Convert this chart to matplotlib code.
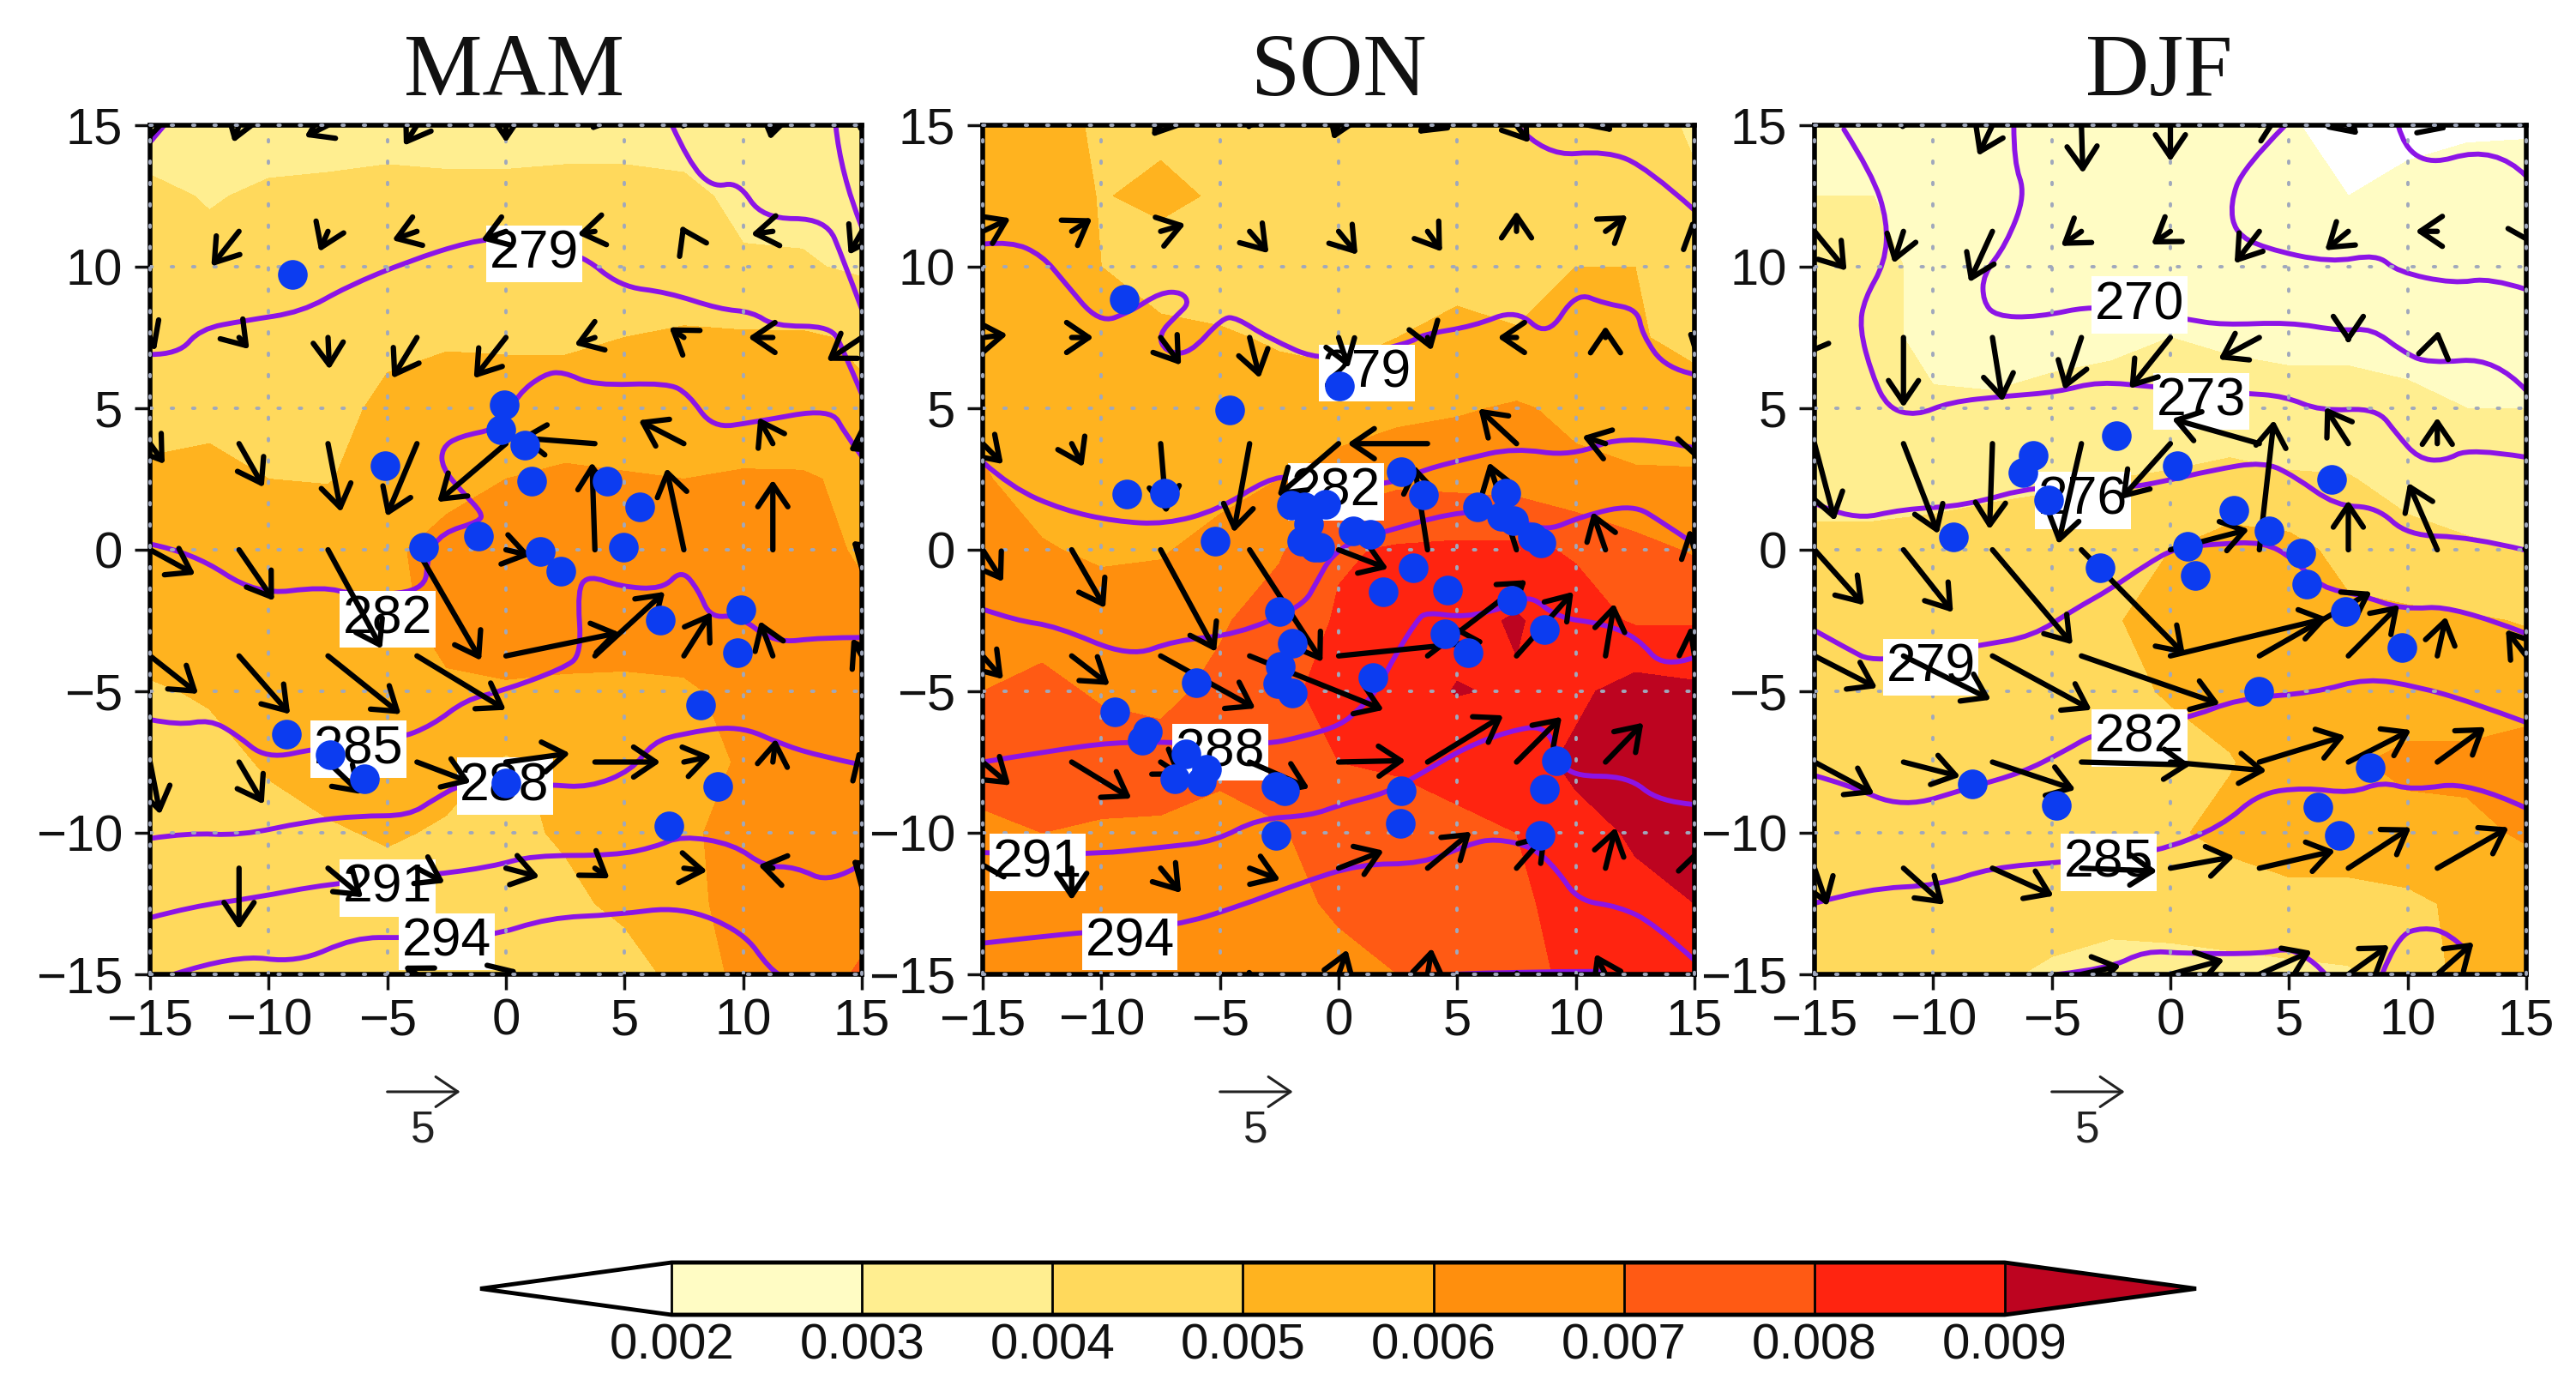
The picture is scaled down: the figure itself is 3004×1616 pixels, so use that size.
import numpy as np
import matplotlib
matplotlib.use("Agg")
import matplotlib.pyplot as plt
from matplotlib.path import Path
from matplotlib.patches import PathPatch

plt.rcParams['font.family'] = ['Liberation Sans', 'DejaVu Sans']
W, H = 3004, 1616
SEASONS = ["MAM", "SON", "DJF"]
LEVELS = [0.002, 0.003, 0.004, 0.005, 0.006, 0.007, 0.008, 0.009]
COLORS = ["#FFFFFF", "#FFFCC4", "#FFEE90", "#FFD95C", "#FFB31F", "#FF8F0D", "#FF5A14", "#FF2410", "#BD0420"]
TICKS = [-15, -10, -5, 0, 5, 10, 15]
GRID_X = np.arange(-15, 15.1, 2.5)
GRID_Y = np.arange(15, -15.1, -2.5)
WIND_X = np.arange(-15, 15.1, 3.75)
WIND_Y = np.arange(15, -15.1, -3.75)

# field values in 1e-3 units, rows from y=15 to y=-15
MAM_FIELD = [
 [3.3,3.3,3.4,3.5,3.5,3.5,3.5,3.5,3.5,3.4,3.2,3.2,3.1],
 [4.3,3.9,4.2,4.25,4.4,4.3,4.3,4.4,4.4,4.3,3.7,3.7,3.5],
 [4.5,4.4,4.5,4.5,4.5,4.5,4.5,4.5,4.5,4.5,4.15,4.1,3.85],
 [4.5,4.7,4.7,4.8,4.8,4.9,4.9,4.9,5.0,5.1,5.1,5.1,4.9],
 [4.8,4.8,4.7,4.7,5.2,5.4,5.3,5.3,5.2,5.3,5.4,5.3,5.1],
 [5.1,5.2,5.0,4.95,5.4,5.8,6.0,6.2,6.1,6.0,6.1,6.1,5.8],
 [5.4,5.5,5.5,5.6,5.9,6.2,6.4,6.5,6.5,6.4,6.4,6.3,5.9],
 [5.5,5.6,5.6,5.7,5.8,6.2,6.5,6.6,6.5,6.4,6.4,6.3,6.2],
 [4.9,5.1,5.3,5.5,5.7,5.9,5.9,5.8,5.8,5.9,6.2,6.4,6.4],
 [4.6,4.7,5.1,5.4,5.5,5.3,4.9,5.2,5.4,5.6,6.1,6.4,6.4],
 [4.5,4.5,4.7,4.9,5.1,4.9,4.8,5.1,5.4,5.95,6.1,6.4,6.5],
 [4.4,4.4,4.5,4.5,4.6,4.6,4.7,4.8,5.2,5.85,6.2,6.5,6.7],
 [4.3,4.4,4.4,4.4,4.5,4.6,4.7,4.7,4.6,5.3,6.3,6.6,7.1],
]
SON_FIELD = [
 [5.3,5.5,4.8,4.8,4.8,4.6,4.5,4.5,4.5,4.5,4.4,4.3,3.9],
 [5.4,5.5,4.95,5.2,4.9,4.7,4.6,4.6,4.6,4.5,4.5,4.4,4.1],
 [5.4,5.5,5.0,4.6,4.5,4.5,4.5,4.5,4.5,4.5,5.0,5.0,4.5],
 [5.5,5.5,5.1,5.2,5.1,4.9,4.7,5.0,5.4,5.1,5.2,5.1,4.7],
 [5.7,5.5,5.0,5.3,5.0,5.4,5.5,5.7,5.9,6.1,5.8,5.6,5.5],
 [6.1,5.5,5.3,5.4,5.6,6.0,6.4,6.8,6.7,6.6,6.2,6.1,6.1],
 [6.3,6.1,5.8,5.9,6.4,6.9,7.9,8.1,8.2,8.2,7.9,7.3,6.9],
 [6.7,6.7,6.6,6.6,6.9,7.4,8.1,8.5,8.7,9.1,8.4,7.9,7.9],
 [7.0,7.2,6.9,6.8,7.2,7.8,8.3,8.6,9.05,8.9,8.8,9.4,9.2],
 [7.4,7.4,7.4,7.3,7.2,7.5,8.0,8.1,8.3,8.6,9.2,9.5,9.4],
 [6.8,7.0,6.9,6.9,6.7,6.9,7.5,7.6,7.8,8.0,8.7,9.1,9.3],
 [6.1,6.3,6.3,6.3,6.3,6.6,7.2,7.4,7.6,7.9,8.2,8.8,9.0],
 [6.05,6.1,6.2,6.2,6.3,6.4,6.6,7.0,7.4,7.7,8.2,8.7,8.9],
]
DJF_FIELD = [
 [3.0,3.0,2.9,2.6,2.6,2.6,2.5,2.4,2.05,1.8,1.8,1.9,1.9],
 [3.0,3.0,2.9,2.6,2.5,2.5,2.5,2.4,2.3,2.0,2.2,2.3,2.4],
 [3.2,3.1,2.9,2.6,2.6,2.6,2.6,2.5,2.4,2.4,2.4,2.5,2.5],
 [3.4,3.2,2.8,2.7,2.8,2.9,3.0,2.9,2.8,2.8,2.7,2.7,2.7],
 [3.5,3.4,3.1,3.1,3.2,3.2,3.3,3.3,3.3,3.3,3.2,3.0,3.0],
 [3.7,3.7,3.7,3.8,3.9,4.0,4.1,4.3,4.1,4.05,3.7,3.6,3.6],
 [4.2,4.2,4.3,4.4,4.4,4.6,5.0,5.4,5.3,4.7,4.3,4.1,4.0],
 [4.4,4.5,4.5,4.5,4.6,4.9,5.4,5.6,5.6,5.2,5.2,5.1,4.95],
 [4.4,4.5,4.5,4.5,4.6,4.85,5.05,5.3,5.3,5.4,5.5,5.5,5.5],
 [4.4,4.4,4.5,4.5,4.6,4.8,4.8,4.95,5.4,5.9,6.2,6.2,6.5],
 [4.3,4.3,4.4,4.4,4.5,4.6,4.9,5.2,5.5,5.5,5.7,5.8,6.1],
 [4.1,4.2,4.2,4.3,4.3,4.4,4.5,4.6,4.7,4.7,4.8,5.2,5.5],
 [4.1,4.1,4.1,4.1,3.9,3.6,3.6,3.7,3.8,3.9,4.4,5.3,5.5],
]

# temperature contours, read as (x, y) vertices
MAM_LINES = [
 [(-15,14.4),(-14.4,15)],
 [(7,15),(7.7,13.7),(8.7,12.8),(9.8,13),(10.8,11.7),(13.5,11.7),(14.2,10.3),(15,8.5)],
 [(13.9,15),(14.1,13.3),(15,11.4)],
 [(-15,6.9),(-13.8,6.9),(-12.9,7.8),(-11,8.1),(-8.6,8.4),(-6.7,9.3),(-4.1,10.2),(-1.5,10.9),(0,11),(3.1,10.5),(4.8,9.3),(6.8,9.1),(9,8.5),(10.4,8.4),(11.3,7.9),(13.7,7.9),(14.2,7.1),(15,5.5)],
 [(-15,0.2),(-13.2,-0.1),(-10.5,-1.6),(-7.7,-1.3),(-6.4,-1.6),(-3.4,-1.5),(-3.3,-0.2),(-2.7,0.6),(-1.1,1),(-1,1.3),(-1.8,2),(-2.7,2.9),(-2.7,3.6),(-2,4),(-0.2,4.3),(0.5,5.5),(1.6,6.2),(2.4,6.3),(3.7,5.8),(6.8,5.9),(7.7,5.5),(8.7,4.3),(10.4,4.5),(13.7,5),(14.3,4.1),(15,3.3)],
 [(-15,-6),(-13.8,-6.2),(-12.5,-6),(-11.4,-6.5),(-10.1,-7.4),(-7.9,-7),(-4.6,-6.7),(-3.1,-6.2),(-1.7,-5.3),(-0.2,-5),(2.4,-4.2),(3.2,-3.7),(3,-1.4),(3.5,-0.9),(4.8,-1.3),(6.6,-1.4),(7.4,-0.7),(8.1,-1.4),(8.6,-2.4),(9.8,-2.3),(11.3,-3.3),(13.3,-3.1),(15,-3.1)],
 [(-15,-10.2),(-13.4,-10),(-11.2,-10.1),(-8.4,-9.6),(-6.2,-9.4),(-4.1,-9.4),(-3,-8.8),(-1.7,-8.2),(1.8,-8.3),(3.5,-8.4),(5.3,-7.8),(6.2,-6.8),(7.4,-6.5),(9.8,-6.2),(11.7,-6.9),(13.3,-7.3),(15,-7.6)],
 [(-15,-13),(-13.2,-12.6),(-10.6,-12.3),(-7.5,-11.8),(-3.2,-11.5),(-0.6,-11.2),(1.1,-10.8),(4.6,-10.8),(6.3,-10.5),(7.4,-10.1),(9.6,-10.4),(10.9,-11.2),(12.2,-11.2),(13.7,-11.8),(15,-11.1)],
 [(-14,-15),(-11.4,-14.3),(-8.8,-14.6),(-6.4,-13.7),(-4.3,-13.7),(-0.8,-13.7),(1.8,-13),(4.6,-12.9),(7.4,-12.6),(10,-13.5),(11.1,-14.8),(11.5,-15)],
]
SON_LINES = [
 [(7.5,15),(8.7,13.9),(11.3,14.1),(13,13.5),(15,12)],
 [(-15,10.8),(-13.8,10.9),(-12.5,10.4),(-11.6,9.5),(-10.1,8),(-8.8,8.4),(-7.5,9.1),(-6.6,9.1),(-6.3,8.7),(-6.8,8.3),(-7.6,7.6),(-7.3,7),(-6.3,6.9),(-4.9,8.2),(-4.3,8.2),(-3,7.5),(-0.6,6.6),(3,7.3),(3.5,7.6),(5.7,7.9),(7.5,8.5),(8.8,7.5),(10,9.1),(11.2,8.7),(12.6,8.5),(12.8,7.6),(13.8,6.4),(15,6.2)],
 [(-15,3.1),(-13.8,2.2),(-11.6,1.4),(-9.4,1),(-7.3,0.9),(-5.1,1.4),(-3,2.5),(-1.9,2.6),(1.7,2.2),(3.5,2.8),(5.3,3.2),(7.4,3.6),(9.8,3.3),(12.2,4.1),(15,3.6)],
 [(-15,-2.1),(-13.6,-2.5),(-11.9,-2.7),(-8.8,-3.8),(-6.9,-3.2),(-4.3,-3),(-1.5,-2),(-0.9,-1.1),(-0.3,-0.2),(0.8,0.4),(1.8,0.6),(4.7,1.3),(7,1.4),(8.6,0.6),(10.3,1.2),(12.4,1.6),(13.6,1),(15,0.2)],
 [(-15,-7.5),(-12.1,-7.1),(-9.5,-6.8),(-6.9,-6.8),(-3.2,-6.9),(-1.5,-6.6),(0.1,-6.2),(0.9,-5.6),(1.6,-5),(2.4,-3.7),(3.3,-2.5),(3.7,-2.2),(5.3,-2.4),(7.2,-2),(8.1,-1.6),(9.2,-2.4),(11.1,-2.6),(12.6,-3.1),(13.7,-4.2),(15,-3.8)],
 [(-15,-10.7),(-10.8,-10.8),(-7.3,-10.5),(-5.2,-10.3),(-3.4,-9.5),(-1.2,-9.4),(0.1,-9),(2,-8.6),(3.5,-7.9),(5.3,-7),(7.2,-6.4),(8.7,-6.2),(9.3,-7.3),(9.8,-8),(12.2,-8),(13.5,-8.9),(15,-9)],
 [(-15,-13.9),(-12.9,-13.7),(-10.5,-13.5),(-6.9,-13.3),(-4.2,-12.6),(-1.7,-11.8),(0.9,-11.1),(3.5,-11.1),(5.5,-10.4),(6.6,-10.2),(8.2,-10.5),(9.2,-11.3),(10.1,-12.4),(11.8,-12.6),(13.3,-13.2),(15,-14.5)],
 [(4.8,-15),(7.5,-14.9),(11,-14.9)],
]
DJF_LINES = [
 [(-13.76,14.85),(-12.57,13.28),(-11.92,11.6),(-12.03,10.14),(-12.89,8.88),(-13.11,7.83),(-12.57,6.16),(-11.92,5.01),(-10.72,4.73),(-9.31,5.22),(-6.93,5.43),(-4.76,5.57),(-3.02,5.95),(-0.63,5.74),(3.06,5.53),(4.8,5.43),(6.32,4.9),(8.7,5.01),(9.57,4.06),(10.44,3.23),(11.52,3.12),(12.61,3.6),(15,3.27)],
 [(-6.6,15),(-6.6,13.7),(-6.1,12.55),(-6.93,10.77),(-7.9,9.72),(-7.9,8.78),(-7.36,8.25),(-5.62,8.21),(-3.02,8.67),(0.67,8.15),(2.19,7.94),(5.01,8.04),(7.18,7.73),(8.49,7.83),(9.79,7),(10.87,6.58),(13.7,6.79),(15,5.63)],
 [(4.8,14.96),(3.06,13.49),(2.52,12.23),(2.73,11.19),(3.93,10.66),(6.75,10.14),(8.7,10.45),(9.57,9.82),(11.96,9.4),(13.48,9.61),(15,9.2)],
 [(9.6,15),(10.1,13.4),(13.7,14.3),(15,13.2)],
 [(-15,1.65),(-13.44,1.03),(-11.27,1.44),(-8.66,1.55),(-5.62,2.28),(-1.93,2.18),(-0.41,2.39),(1.76,2.81),(3.93,3.12),(5.23,2.6),(6.97,1.55),(8.7,1.51),(10,0.5),(12.61,0.46),(15,-0.02)],
 [(-15,-2.85),(-13.65,-3.48),(-12.46,-4),(-7.98,-3.37),(-5.82,-3.06),(-4.08,-2.12),(-2.5,-1.38),(-1.07,-0.55),(0.24,0.08),(1.76,0.19),(3.93,0.29),(5.23,-0.34),(6.32,-1.34),(8.05,-1.6),(9.79,-2.12),(11.96,-1.97),(15,-2.96)],
 [(-15,-7.98),(-13.65,-8.29),(-11.27,-9.13),(-8.45,-8.4),(-6.27,-7.88),(-4.54,-7.15),(-3.02,-6.41),(0.67,-5.99),(2.84,-5.26),(6.1,-5.05),(8.27,-4.53),(10.44,-4.84),(12.61,-5.36),(15,-6.1)],
 [(-15,-12.49),(-12.79,-11.97),(-9.75,-11.86),(-7.58,-11.23),(-4.32,-11.02),(-0.63,-10.71),(2.19,-9.76),(3.71,-8.61),(5.66,-8.4),(7.62,-8.61),(8.92,-8.19),(10.22,-8.5),(12.61,-8.19),(15,-9.13)],
 [(-4.75,-15),(-2.58,-14.8),(-1.06,-14.16),(0.67,-14.27),(3.93,-14.27),(5.01,-14.06),(6.1,-14.58),(6.53,-15)],
 [(8.92,-15),(9.57,-13.64),(10.66,-13.33),(11.74,-13.54),(12.5,-14.16)],
]

# contour labels: text, x, y
MAM_LABELS = [("279",1.2,10.45),("282",-5,-2.45),("285",-6.2,-7.05),("288",-0.05,-8.35),("291",-5,-11.95),("294",-2.5,-13.85)]
SON_LABELS = [("279",1.2,6.25),("282",-0.1,2.05),("288",-5,-7.15),("291",-12.7,-11.05),("294",-8.8,-13.85)]
DJF_LABELS = [("270",-1.3,8.65),("273",1.3,5.25),("276",-3.7,1.75),("279",-10.1,-4.15),("282",-1.3,-6.65),("285",-2.6,-11.05)]

# wind components, rows y=15,11.25,...,-15; columns x=-15,-11.25,...,15
MAM_U = [
 [-0.2,-0.4,-1.6,-0.9,0,-0.3,-0.2,-0.2,-0.2],
 [0,-1.9,-0.6,-1.7,-1.7,-1.2,-0.2,-1.5,-0.9],
 [0.4,0.7,0.1,-1.7,-2.2,-1.4,-1,-1.7,-2.4],
 [1,1.7,0.9,-2.1,-4.7,-5.2,-3.1,-1,-0.9],
 [3.1,2.4,3.7,4.4,1.7,-0.2,-1.2,0,-0.7],
 [3.3,3.5,5,6.1,7.8,4.8,1.9,-0.9,-0.7],
 [0.7,1.7,2.3,3.7,4.4,4.5,1.9,0.2,-0.3],
 [0,0,2.4,1.9,2.3,1,1.6,-1,-0.7],
 [0,0,0,-0.9,0.8,0,0,0,0],
]
MAM_V = [
 [-1.2,-1.2,-0.8,-1.4,-1.2,-0.4,-0.2,-1,-0.5],
 [0,-2.4,-1.4,-0.6,-0.6,-0.2,0.4,-0.2,-1.6],
 [-0.9,-0.8,-2.2,-2.8,-2.8,-0.5,0.7,0,-1.6],
 [-1.4,-3,-4.7,-5,-4,0.4,1.6,1.8,-0.5],
 [-1.7,-3.5,-6.8,-7.6,-0.4,6,5.6,4.8,0.6],
 [-2.6,-4,-4,-3.7,1.6,4.4,3,2.4,1.2],
 [-3.6,-2.9,-2.2,-1.4,0.6,0,0.4,1.6,0.8],
 [0,-4.2,-2,-1,-0.6,-0.7,-0.2,0.2,0.6],
 [0,0,0,0.6,0.3,0,0,0,0],
]
SON_U = [
 [0,0,-0.6,-0.2,-0.4,-0.7,0.9,0.5,0],
 [1.9,1.4,1.7,1.3,1.3,1,0,1.5,-0.2],
 [1.7,1.5,1.4,0.7,0.7,0.3,-1.3,0,-0.5],
 [1.4,0.8,0.4,-1.1,-4.2,-5.5,-2.6,-1.6,0.3],
 [1.4,2.3,3.8,5,3.4,-0.9,-1.9,-0.9,-0.4],
 [1.4,2.6,6.5,9.2,10,6.8,3.9,0.6,-0.3],
 [1.9,4.1,1.5,4.1,4.6,5.2,3.1,2.6,0],
 [-0.3,0,1.4,2.1,3.1,3,2.1,0.7,0.3],
 [0,0,0,-0.1,0.6,0.3,0.1,-0.7,0],
]
SON_V = [
 [0,0,-0.8,-0.3,-1,-0.6,-1.2,-0.5,0],
 [0.9,0.9,0.5,-1.5,-1.6,-1.4,1.4,1.1,0.8],
 [0.2,0,-1.9,-2.8,-2.1,-0.9,0,0.8,0.4],
 [-1.4,-1.6,-4.8,-6.1,-3.6,0,2.4,0.5,-1.2],
 [-2.2,-4,-7,-7.7,-1.3,5.8,6,2.6,1.4],
 [-1.6,-2,-3.6,-3.7,1,5.2,4.4,3.6,2],
 [-1.6,-2.5,-1,-1.8,0.1,3.2,3.1,2.7,0],
 [0.6,-2.2,-1.7,-0.8,1.2,2.5,2.4,2.8,1.4],
 [0,0,0,0.4,1.7,1.8,0.3,1.4,0],
]
DJF_U = [
 [0,-0.2,-1,0.1,0,1.4,0.7,0.7,0],
 [2.2,-0.7,-1.6,-1.4,-1.3,-1.7,-1.6,-1.5,0.5],
 [-0.9,0,0.7,-1.2,-2.8,-2.8,0,0.1,0],
 [1.4,2.4,-0.2,-1.6,-3.4,-6,-1.6,0,0],
 [3.4,3.4,5.5,7.1,5.4,1,0,-2,-0.3],
 [4.3,6,6.8,9.5,10.8,7.7,3.5,0.6,-1.4],
 [4.1,3.9,5.7,7.5,6.6,5.9,4.3,3.3,0],
 [0.9,2.8,4.2,5.2,4.4,5.2,4.3,4.9,0],
 [0,0,0,2.7,3.7,3.6,2.8,2.5,0],
]
DJF_V = [
 [0,-0.3,-2.1,-3.3,-2.5,0.6,-0.7,-0.3,0],
 [-2.7,-2.2,-3.5,-1,-0.9,-2.2,-1.3,0,-1],
 [-1.4,-4.8,-4.4,-3.6,-3.5,-1.5,-0.4,0.5,0],
 [-5.3,-6.2,-5.9,-6.9,-3.8,1.7,2.5,1.8,0],
 [-3.8,-4.3,-6.5,-7.2,1.4,8.9,3.4,4.6,0.2],
 [-2.2,-3,-3.7,-3.3,2.6,4.4,3.5,2.7,1.8],
 [-2.2,-1,-1.9,-0.2,-0.6,1.8,2.2,2.4,0],
 [-2.6,-2.5,-1.9,-0.2,0.8,1.2,2.8,2.8,0],
 [0,0,0,0.6,1,1.6,2,2.2,0],
]

# station locations
MAM_DOTS_X = [-9,-0.06,-0.21,0.81,1.09,-5.1,4.25,5.64,4.95,-1.14,-3.46,1.46,2.33,6.49,9.91,9.76,8.2,-9.26,-7.42,-5.95,-0.01,8.93,6.85]
MAM_DOTS_Y = [9.72,5.11,4.23,3.69,2.43,2.97,2.43,1.51,0.08,0.5,0.08,-0.06,-0.76,-2.47,-2.12,-3.65,-5.47,-6.52,-7.25,-8.09,-8.24,-8.36,-9.76]
SON_DOTS_X = [-9.04,0.05,-4.6,-8.94,-7.35,-5.19,-2,-1.46,-0.55,-1.25,-1.57,-1.03,-0.8,0.6,1.35,2.65,3.58,5.86,7.05,6.88,7.37,8.17,8.54,1.89,3.13,4.6,7.31,8.67,-2.5,-1.94,-2.44,4.49,5.47,1.46,-2.55,-1.94,-6.01,-9.43,-8.07,-8.28,-6.44,-6.92,-5.58,-5.79,-2.65,-2.26,2.65,2.61,9.19,8.67,8.5,-2.65]
SON_DOTS_Y = [8.84,5.78,4.94,1.97,2.01,0.31,1.57,1.53,1.6,0.92,0.3,0.08,0.1,0.67,0.55,2.76,1.93,1.51,2.01,1.17,1.03,0.46,0.25,-1.49,-0.65,-1.43,-1.8,-2.81,-2.18,-3.31,-4.11,-2.96,-3.65,-4.53,-4.74,-5.05,-4.69,-5.72,-6.41,-6.73,-7.2,-8.09,-7.77,-8.19,-8.36,-8.5,-8.5,-9.66,-7.46,-8.44,-10.08,-10.08]
DJF_DOTS_X = [-2.26,-5.8,-6.23,-5.12,0.3,6.81,2.69,-9.16,0.72,4.14,5.51,1.04,-2.95,5.73,7.36,9.75,3.71,8.42,-8.34,-4.8,6.21,7.12]
DJF_DOTS_Y = [4.02,3.33,2.74,1.76,2.97,2.49,1.4,0.46,0.12,0.67,-0.13,-0.92,-0.65,-1.22,-2.18,-3.44,-5.01,-7.71,-8.26,-9.03,-9.09,-10.08]

FIELDS = [MAM_FIELD, SON_FIELD, DJF_FIELD]
LINES = [MAM_LINES, SON_LINES, DJF_LINES]
LABELS = [MAM_LABELS, SON_LABELS, DJF_LABELS]
WIND_U = [MAM_U, SON_U, DJF_U]
WIND_V = [MAM_V, SON_V, DJF_V]
DOTS_X = [MAM_DOTS_X, SON_DOTS_X, DJF_DOTS_X]
DOTS_Y = [MAM_DOTS_Y, SON_DOTS_Y, DJF_DOTS_Y]
REF_SPEED = 5

PANEL_LEFT = [175, 1146, 2116]
TITLE_X = [600, 1561, 2518]
PANEL_W, PANEL_TOP, PANEL_BOTTOM = 830, 146, 1136
PURPLE = "#8C14E6"
BLUE = "#0C3CF0"
GRID_C = "#A0A8BC"
PT_PER_SPEED = 0.85 * 72 / REF_SPEED   # arrow length in points for one speed unit


def arrow(ax, x, y, u, v, lw, mut, color, clip):
    a = ax.annotate('', xy=(x, y), xycoords='data', xytext=(u * PT_PER_SPEED, v * PT_PER_SPEED),
                    textcoords='offset points', annotation_clip=False, zorder=5,
                    arrowprops=dict(arrowstyle='<-,head_length=0.62,head_width=0.42', lw=lw, color=color,
                                    shrinkA=0, shrinkB=0, mutation_scale=mut, capstyle='round', joinstyle='round'))
    if clip:
        a.arrow_patch.set_clip_box(ax.bbox)
        a.arrow_patch.set_clip_on(True)


def smooth_path(points):
    pts = np.array(points, float)
    verts, codes = [pts[0]], [Path.MOVETO]
    for k in range(1, len(pts) - 1):
        end = (pts[k] + pts[k + 1]) / 2 if k < len(pts) - 2 else pts[k + 1]
        verts += [pts[k], end]
        codes += [Path.CURVE3, Path.CURVE3]
    if len(pts) == 2:
        verts.append(pts[1])
        codes.append(Path.LINETO)
    return Path(verts, codes)


fig = plt.figure(figsize=(W / 100, H / 100), dpi=100)
cs = None
for i, season in enumerate(SEASONS):
    ax = fig.add_axes([PANEL_LEFT[i] / W, 1 - PANEL_BOTTOM / H, PANEL_W / W, (PANEL_BOTTOM - PANEL_TOP) / H])
    cs = ax.contourf(GRID_X, GRID_Y, np.array(FIELDS[i]) * 1e-3, levels=LEVELS, colors=COLORS[1:-1], extend='both', zorder=1)
    cs.cmap.set_under(COLORS[0])
    cs.cmap.set_over(COLORS[-1])
    cs.changed()
    for line in LINES[i]:
        ax.add_patch(PathPatch(smooth_path(line), fc='none', ec=PURPLE, lw=4.2, capstyle='round', joinstyle='round', zorder=2))
    for t in TICKS:
        edge = abs(t) == 15
        z = 8 if edge else 3
        for fn in (ax.axvline, ax.axhline):
            fn(t, color=GRID_C, lw=2.8, ls=(0, (0.6, 5.8)), dash_capstyle='round', zorder=z, clip_on=not edge)
    for txt, x, y in LABELS[i]:
        ax.text(x, y, txt, fontsize=45, ha='center', va='center', color='black', zorder=4,
                bbox=dict(boxstyle='square,pad=0.06', fc='white', ec='none'))
    for r, wy in enumerate(WIND_Y):
        for c, wx in enumerate(WIND_X):
            u, v = WIND_U[i][r][c], WIND_V[i][r][c]
            if u or v:
                arrow(ax, wx, wy, u, v, 4.5, 30, 'black', True)
    ax.scatter(DOTS_X[i], DOTS_Y[i], s=620, color=BLUE, linewidths=0, zorder=6)
    arrow(ax, -5, -19.15, REF_SPEED, 0, 2.2, 30, '#222222', False)
    ax.text(-3.5, -20.5, str(REF_SPEED), fontsize=37, ha='center', va='center', color='#222222', clip_on=False)
    ax.set_xlim(-15, 15)
    ax.set_ylim(-15, 15)
    ax.set_xticks(TICKS)
    ax.set_yticks(TICKS)
    ax.tick_params(direction='out', length=13, width=2.5, labelsize=43, pad=7, colors='#111111')
    ax.tick_params(axis='y', pad=10)
    for sp in ax.spines.values():
        sp.set_linewidth(4)
        sp.set_color('black')
    fig.text(TITLE_X[i] / W, 1 - 86 / H, season, fontsize=74, family='Liberation Serif', ha='center', va='center', color='#111111')

cax = fig.add_axes([560 / W, 1 - 1533 / H, 2001 / W, 61 / H])
cb = fig.colorbar(cs, cax=cax, orientation='horizontal', extend='both', extendfrac=0.1436, drawedges=True, ticks=LEVELS, format='%.3f')
cb.outline.set_linewidth(3.5)
cb.dividers.set_linewidth(2)
cb.dividers.set_color('black')
cax.tick_params(length=0, labelsize=42, pad=7, colors='#111111')
fig.savefig('out.png', dpi=100)
